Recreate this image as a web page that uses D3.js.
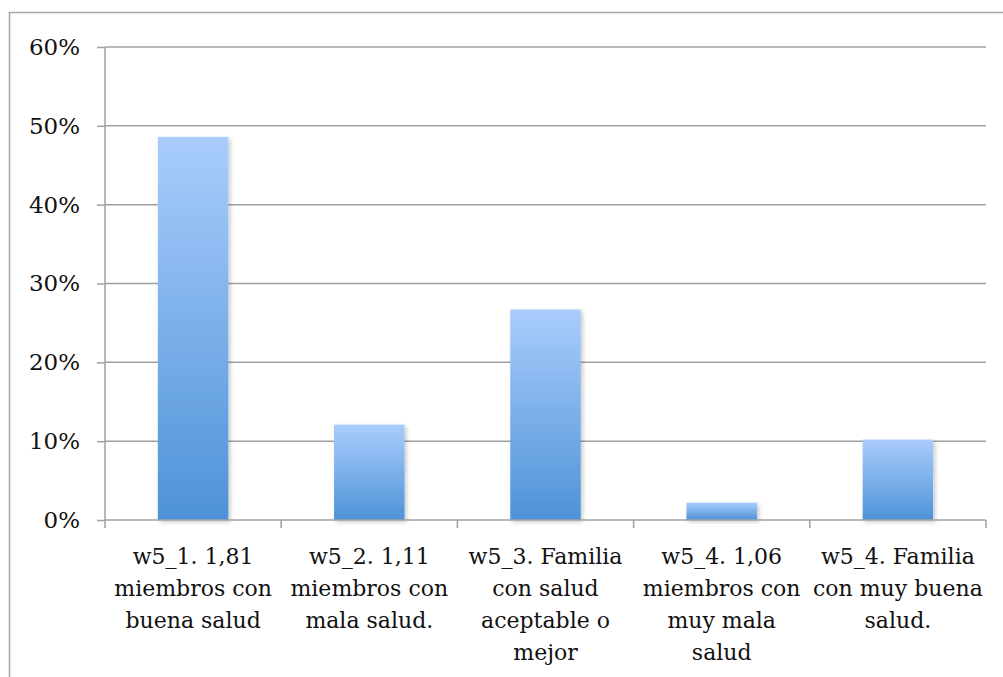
<!DOCTYPE html>
<html lang="es">
<head>
<meta charset="UTF-8">
<title>Salud familiar</title>
<script src="https://d3js.org/d3.v7.min.js"></script>
<style>
  body { margin: 0; background: #fff; }
  text { font-family: "DejaVu Serif", serif; fill: #111; }
</style>
</head>
<body>
<script>
// categories (label lines) and values
var categories = [
  ["w5_1. 1,81", "miembros con", "buena salud"],
  ["w5_2. 1,11", "miembros con", "mala salud."],
  ["w5_3. Familia", "con salud", "aceptable o", "mejor"],
  ["w5_4. 1,06", "miembros con", "muy mala", "salud"],
  ["w5_4. Familia", "con muy buena", "salud."]
];
var values = [0.486, 0.121, 0.267, 0.022, 0.102];
var yTicks = [0, 0.1, 0.2, 0.3, 0.4, 0.5, 0.6];

var w = 1003, h = 677;
var plotLeft = 105, plotRight = 986, plotTop = 47, plotBottom = 520;

var svg = d3.select("body").append("svg")
    .attr("width", w).attr("height", h);

// outer frame
svg.append("rect")
    .attr("x", 9.5).attr("y", 12.5)
    .attr("width", 1010).attr("height", 700)
    .attr("fill", "none").attr("stroke", "#a6a6a6").attr("stroke-width", 1.5);

var defs = svg.append("defs");
var grad = defs.append("linearGradient")
    .attr("id", "barGrad").attr("x1", 0).attr("y1", 0).attr("x2", 0).attr("y2", 1);
grad.append("stop").attr("offset", "0%").attr("stop-color", "#a9cdfc");
grad.append("stop").attr("offset", "100%").attr("stop-color", "#4e92d8");

var shadow = defs.append("filter").attr("id", "shadow")
    .attr("x", "-20%").attr("y", "-20%").attr("width", "140%").attr("height", "140%");
shadow.append("feDropShadow")
    .attr("dx", 2).attr("dy", 2).attr("stdDeviation", 2)
    .attr("flood-color", "#000").attr("flood-opacity", 0.22);

var x = d3.scaleBand()
    .domain(d3.range(categories.length))
    .range([plotLeft, plotRight])
    .paddingInner(0.6).paddingOuter(0.3);

var y = d3.scaleLinear().domain([0, 0.6]).range([plotBottom, plotTop]);

// gridlines
svg.append("g").selectAll("line")
    .data(yTicks.slice(1))
    .join("line")
    .attr("x1", plotLeft).attr("x2", plotRight)
    .attr("y1", d => y(d)).attr("y2", d => y(d))
    .attr("stroke", "#a0a0a0").attr("stroke-width", 1.5);

// y axis
var yAxis = svg.append("g")
    .attr("transform", "translate(" + plotLeft + ",0)")
    .call(d3.axisLeft(y).tickValues(yTicks).tickFormat(d3.format(".0%")).tickSize(8).tickPadding(17));
yAxis.selectAll("line").attr("stroke", "#a0a0a0").attr("stroke-width", 1.5);
yAxis.select(".domain").attr("d", "M0," + plotTop + "V" + plotBottom)
    .attr("stroke", "#a0a0a0").attr("stroke-width", 1.5);
yAxis.selectAll("text").style("font-size", "23px").attr("fill", "#111")
    .style("font-family", "DejaVu Serif");

// bars
svg.append("g").selectAll("rect")
    .data(values)
    .join("rect")
    .attr("x", (d, i) => x(i))
    .attr("y", d => y(d))
    .attr("width", x.bandwidth())
    .attr("height", d => plotBottom - y(d))
    .attr("fill", "url(#barGrad)")
    .attr("filter", "url(#shadow)");

// x axis with ticks at band edges
var edges = d3.range(categories.length + 1).map(i => plotLeft + i * (plotRight - plotLeft) / categories.length);
var xg = svg.append("g");
xg.append("line")
    .attr("x1", plotLeft).attr("x2", plotRight).attr("y1", plotBottom).attr("y2", plotBottom)
    .attr("stroke", "#a0a0a0").attr("stroke-width", 1.5);
xg.selectAll("line.tick")
    .data(edges)
    .join("line").attr("class", "tick")
    .attr("x1", d => d).attr("x2", d => d)
    .attr("y1", plotBottom).attr("y2", plotBottom + 8)
    .attr("stroke", "#a0a0a0").attr("stroke-width", 1.5);

var labels = xg.selectAll("text")
    .data(categories)
    .join("text")
    .attr("text-anchor", "middle")
    .style("font-size", "22px");
labels.selectAll("tspan")
    .data((d, i) => d.map(line => ({ line: line, i: i })))
    .join("tspan")
    .attr("x", d => x(d.i) + x.bandwidth() / 2)
    .attr("y", (d, j) => 564 + j * 32)
    .text(d => d.line);
</script>
</body>
</html>
